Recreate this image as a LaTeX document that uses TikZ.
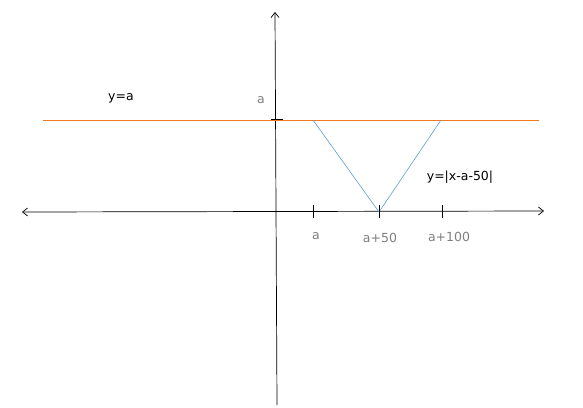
\documentclass[tikz,border=0pt]{standalone}
\usepackage{fontspec}
\setmainfont{DejaVu Sans}
\usetikzlibrary{arrows.meta}

\definecolor{lineorange}{HTML}{F07A1E}
\definecolor{lineblue}{HTML}{5C9BDC}
\definecolor{labelgray}{HTML}{7F7F7F}

\tikzset{
  axis/.style={line width=0.7pt, {Straight Barb[length=5pt,width=8pt]}-{Straight Barb[length=5pt,width=8pt]}},
  yaxis/.style={line width=0.7pt, -{Straight Barb[length=5pt,width=8pt]}},
  tick/.style={line width=0.7pt},
  ticklabel/.style={text=labelgray, font=\fontsize{12.5}{14}\selectfont, inner sep=0pt},
  curvelabel/.style={text=black, font=\fontsize{12.5}{14}\selectfont, inner sep=0pt}
}

\begin{document}
\begin{tikzpicture}[x=1pt,y=-1pt]
      \useasboundingbox (0,0) rectangle (583,407);
      % axes
      \coordinate (ybot) at (277,405);
      \coordinate (ytop) at (275,12);
      \coordinate (xleft) at (22,212);
      \coordinate (xright) at (544,211);
      \draw[yaxis] (ybot) -- (ytop);
      \draw[axis] (xleft) -- (xright);
      % y = a
      \coordinate (ha) at (43,120);
      \coordinate (hb) at (539,120);
      \draw[lineorange, line width=0.7pt] (ha) -- (hb);
      \coordinate (ytl) at (271,119);
      \coordinate (ytr) at (283,119);
      \draw[tick] (ytl) -- (ytr);
      % y = |x-a-50|
      \coordinate (vl) at (313,120);
      \coordinate (vm) at (379,212);
      \coordinate (vr) at (441,120);
      \draw[lineblue, line width=0.6pt] (vl) -- (vm) -- (vr);
      % ticks on the x axis
      \foreach \tx/\tname in {313/ta, 379/tb, 442/tc} {
        \draw[tick] (\tx,205) coordinate (\tname) -- (\tx,218);
      }
      \node[ticklabel] (la) at (316,236) {a};
      \node[ticklabel] (lb) at (380,238) {a+50};
      \node[ticklabel] (lc) at (449,237) {a+100};
      \node[ticklabel] (ly) at (261,100) {a};
      \node[curvelabel] (lya) at (121,98) {y=a};
      \node[curvelabel] (lyv) at (460,177) {y=|x-a-50|};
\end{tikzpicture}
\end{document}
